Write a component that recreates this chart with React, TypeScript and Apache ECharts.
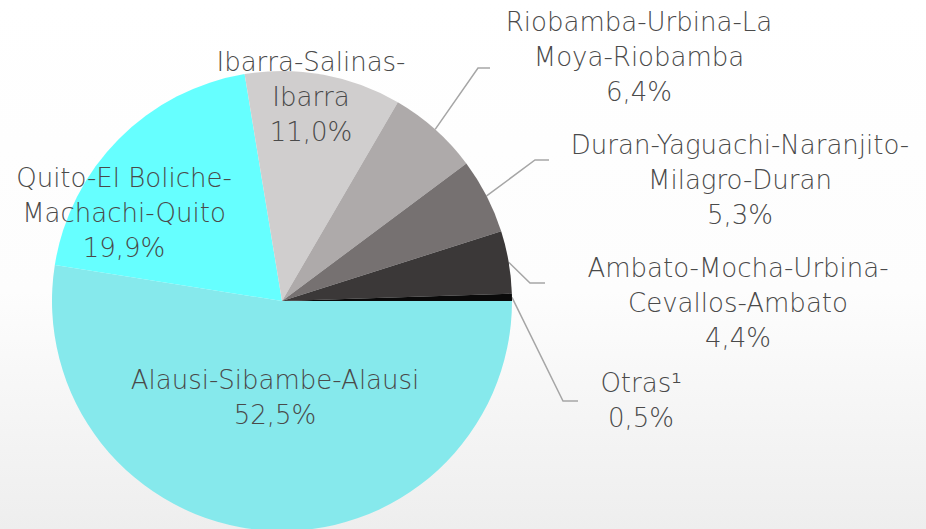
import React, { useEffect, useRef } from "react";
import * as echarts from "echarts";

// ---- data ----
const routes = [
  "Alausi-Sibambe-Alausi",
  "Quito-El Boliche-Machachi-Quito",
  "Ibarra-Salinas-Ibarra",
  "Riobamba-Urbina-La Moya-Riobamba",
  "Duran-Yaguachi-Naranjito-Milagro-Duran",
  "Ambato-Mocha-Urbina-Cevallos-Ambato",
  "Otras¹",
];
const routeLabels = [
  "Alausi-Sibambe-Alausi",
  "Quito-El Boliche-\nMachachi-Quito",
  "Ibarra-Salinas-\nIbarra",
  "Riobamba-Urbina-La\nMoya-Riobamba",
  "Duran-Yaguachi-Naranjito-\nMilagro-Duran",
  "Ambato-Mocha-Urbina-\nCevallos-Ambato",
  "Otras¹",
];
const shares = [52.5, 19.9, 11.0, 6.4, 5.3, 4.4, 0.5];

// ---- styles / layout ----
const sliceColors = ["#86E9EC", "#66FFFF", "#D0CECE", "#AEAAAA", "#767171", "#3B3838", "#0A0A0A"];
const insideLabel = [true, true, true, false, false, false, false];
const CENTER: [number, number] = [282, 301];
const RADIUS = 230;
// label block centres
const labelSpots: [number, number][] = [
  [275, 397],
  [124, 213],
  [311, 97],
  [639, 57],
  [740, 180],
  [738, 303],
  [641, 400],
];
// leader line elbow and end points (outside labels only)
const leaders: ([number, number][] | null)[] = [
  null,
  null,
  null,
  [[478, 68], [490, 68]],
  [[535, 160], [549, 160]],
  [[530, 283], [545, 283]],
  [[563, 401], [578, 401]],
];

function edgePoint(i: number): [number, number] {
  const total = shares.reduce((a, b) => a + b, 0);
  let cum = 0;
  for (let k = 0; k < i; k++) cum += shares[k];
  const mid = ((cum + shares[i] / 2) / total) * Math.PI * 2;
  return [CENTER[0] + RADIUS * Math.cos(mid), CENTER[1] + RADIUS * Math.sin(mid)];
}

export default function App() {
  const ref = useRef<HTMLDivElement>(null);
  useEffect(() => {
    if (!ref.current) return;
    const chart = echarts.init(ref.current, undefined, { renderer: "svg" });
    const data = routes.map((name, i) => ({
      name,
      value: shares[i],
      itemStyle: { color: sliceColors[i] },
      label: { position: insideLabel[i] ? "inside" : "outside" },
      labelLine: { show: !insideLabel[i] },
    }));
    chart.setOption({
      animation: false,
      series: [
        {
          type: "pie",
          center: CENTER,
          radius: RADIUS,
          startAngle: 0,
          clockwise: true,
          avoidLabelOverlap: false,
          silent: true,
          data,
          label: {
            show: true,
            fontFamily: "DejaVu Sans",
            fontWeight: 200,
            fontSize: 26,
            lineHeight: 35,
            color: "#4A4A4A",
            formatter: (p: any) =>
              `${routeLabels[p.dataIndex]}\n${shares[p.dataIndex].toFixed(1).replace(".", ",")}%`,
          },
          labelLine: {
            lineStyle: { color: "#A6A6A6", width: 1.5 },
            length: 40,
            length2: 12,
          },
          labelLayout: (params: any) => {
            const i = params.dataIndex;
            const spot = labelSpots[i];
            const res: any = { x: spot[0], y: spot[1], align: "center", verticalAlign: "middle" };
            const lead = leaders[i];
            if (lead) {
              const p0 =
                params.labelLinePoints && params.labelLinePoints[0]
                  ? params.labelLinePoints[0]
                  : edgePoint(i);
              res.labelLinePoints = [p0, lead[0], lead[1]];
            }
            return res;
          },
        },
      ],
    });
    return () => chart.dispose();
  }, []);
  return (
    <div
      ref={ref}
      style={{
        position: "absolute",
        left: 0,
        top: 0,
        width: 926,
        height: 529,
        background: "linear-gradient(to bottom, #ffffff 0%, #fdfdfd 55%, #eeeeee 100%)",
      }}
    />
  );
}
